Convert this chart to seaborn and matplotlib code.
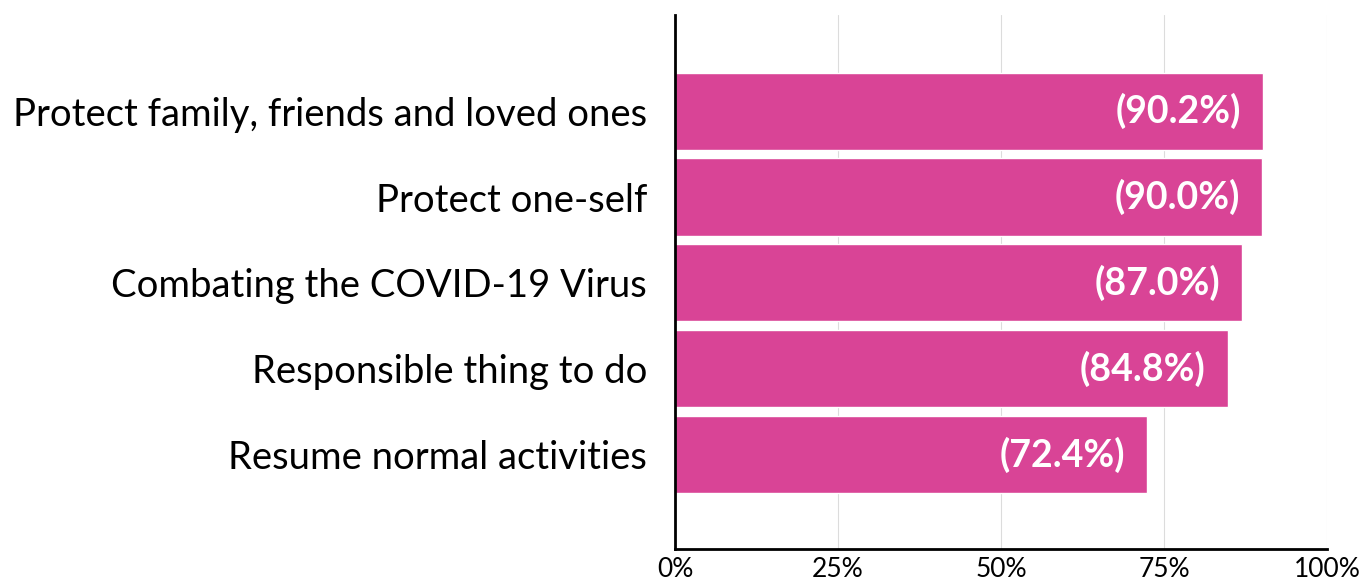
import matplotlib.pyplot as plt
import pandas as pd
import seaborn as sns

reasons = [
    'Protect family, friends and loved ones',
    'Protect one-self',
    'Combating the COVID-19 Virus',
    'Responsible thing to do',
    'Resume normal activities',
]
shares = [90.2, 90.0, 87.0, 84.8, 72.4]
ticks = [0, 25, 50, 75, 100]
tick_labels = ['0%', '25%', '50%', '75%', '100%']

bar_color = '#D94496'

sns.set_theme(style='white')
plt.rcParams['font.family'] = ['Lato', 'DejaVu Sans']

df = pd.DataFrame({'reason': reasons, 'share': shares})

fig = plt.figure(figsize=(13.63, 5.88), dpi=100)
ax = fig.add_axes([675 / 1363, 1 - 549 / 588, 652 / 1363, 534 / 588])

sns.barplot(data=df, x='share', y='reason', color=bar_color, saturation=1,
            width=0.9, ax=ax)

ax.set_xlim(0, 100)
ax.set_ylim(len(reasons) - 1 + 1.1, -1.12)
ax.set_xticks(ticks)
ax.set_xticklabels(tick_labels, fontsize=19)
ax.tick_params(axis='y', labelsize=27.5, length=0, pad=20, labelcolor='black')
ax.tick_params(axis='x', length=0, pad=6, labelcolor='black')
ax.set_xlabel('')
ax.set_ylabel('')

ax.grid(axis='x', color='#dcdcdc', linewidth=0.8)
ax.set_axisbelow(True)
for side in ['top', 'right']:
    ax.spines[side].set_visible(False)
for side in ['left', 'bottom']:
    ax.spines[side].set_color('black')
    ax.spines[side].set_linewidth(2)

for i, v in enumerate(shares):
    ax.annotate(f'({v:.1f}%)', xy=(v, i), xytext=(-16, 0), textcoords='offset points',
                ha='right', va='center', color='white', fontsize=27, fontweight='bold')

fig.savefig('out.png', dpi=100)
